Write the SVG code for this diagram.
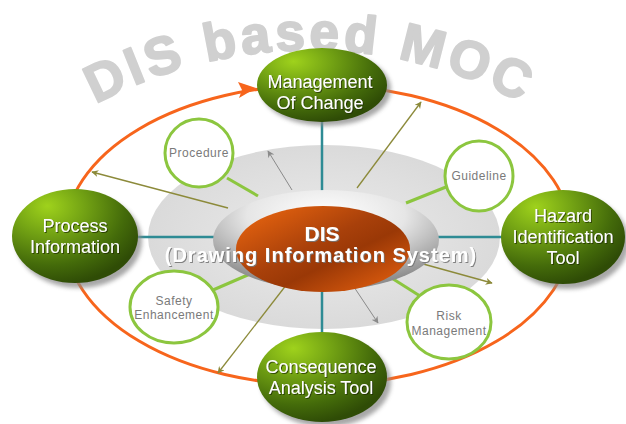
<svg xmlns="http://www.w3.org/2000/svg" width="626" height="424" viewBox="0 0 626 424">
<defs>
  <radialGradient id="gGreen" cx="30%" cy="22%" r="80%" fx="28%" fy="18%">
    <stop offset="0" stop-color="#9fd21c"/>
    <stop offset="0.35" stop-color="#74a414"/>
    <stop offset="0.75" stop-color="#446b0a"/>
    <stop offset="1" stop-color="#2f4c06"/>
  </radialGradient>
  <linearGradient id="gOrange" x1="0" y1="0" x2="1" y2="1">
    <stop offset="0" stop-color="#f26a10"/>
    <stop offset="0.45" stop-color="#a8400a"/>
    <stop offset="0.6" stop-color="#9a3806"/>
    <stop offset="1" stop-color="#ee6510"/>
  </linearGradient>
  <radialGradient id="gSilver" cx="50%" cy="25%" r="70%">
    <stop offset="0" stop-color="#ffffff"/>
    <stop offset="0.5" stop-color="#e6e6e6"/>
    <stop offset="1" stop-color="#8e8e8e"/>
  </radialGradient>
  <radialGradient id="gGray" cx="50%" cy="50%" r="50%">
    <stop offset="0" stop-color="#ececec"/>
    <stop offset="1" stop-color="#dadada"/>
  </radialGradient>
  <filter id="blur" x="-20%" y="-20%" width="140%" height="140%">
    <feGaussianBlur stdDeviation="2"/>
  </filter>
  <filter id="tshG" x="-10%" y="-30%" width="120%" height="160%">
    <feDropShadow dx="1" dy="1" stdDeviation="0.4" flood-color="#1e2c03" flood-opacity="0.7"/>
  </filter>
  <filter id="tshD" x="-10%" y="-30%" width="120%" height="160%">
    <feDropShadow dx="1" dy="1" stdDeviation="0.4" flood-color="#777777" flood-opacity="0.9"/>
  </filter>
  <marker id="aOlive" viewBox="0 0 10 10" refX="9" refY="5" markerWidth="7" markerHeight="7" orient="auto" markerUnits="userSpaceOnUse">
    <path d="M0,0 L10,5 L0,10 L3,5 z" fill="#8c8a3a"/>
  </marker>
  <marker id="aGray" viewBox="0 0 10 10" refX="9" refY="5" markerWidth="7" markerHeight="7" orient="auto" markerUnits="userSpaceOnUse">
    <path d="M0,0 L10,5 L0,10 L3,5 z" fill="#8a8a8a"/>
  </marker>
  <path id="titleArc" d="M -140 500 A 450 450 0 0 1 760 500"/>
</defs>
<style>
  .title { font-family: "Liberation Sans", Arial, sans-serif; font-weight: bold; font-size: 53px; fill: #d0d0d0; stroke: #d0d0d0; stroke-width: 2; stroke-linejoin: round; letter-spacing: 4px; }
  .big { fill: url(#gGreen); }
  .shadow { fill: #8a8a8a; opacity: 0.75; filter: url(#blur); }
  .btxt { font-family: "Liberation Sans", Arial, sans-serif; font-size: 18px; fill: #ffffff; text-anchor: middle; filter: url(#tshG); }
  .small { fill: #ffffff; stroke: #8cc63f; stroke-width: 3; }
  .stxt { font-family: "Liberation Sans", Arial, sans-serif; font-size: 12px; fill: #7a7a7a; text-anchor: middle; letter-spacing: 0.5px; }
  .teal { stroke: #2e8b94; stroke-width: 2.5; fill: none; }
  .grn { stroke: #8cc63f; stroke-width: 3; fill: none; }
  .olive { stroke: #8c8a3a; stroke-width: 1.3; fill: none; marker-end: url(#aOlive); }
  .garr { stroke: #8a8a8a; stroke-width: 1; fill: none; marker-end: url(#aGray); }
  .dis { font-family: "Liberation Sans", Arial, sans-serif; font-weight: bold; fill: #ffffff; text-anchor: middle; filter: url(#tshD); }
</style>
<rect width="626" height="424" fill="#ffffff"/>

<g id="title">
  <text class="title"><textPath href="#titleArc" startOffset="483.5">DIS</textPath></text>
  <text class="title"><textPath href="#titleArc" startOffset="602.6">based</textPath></text>
  <text class="title"><textPath href="#titleArc" startOffset="794.6">MOC</textPath></text>
</g>

<g id="cycle">
  <ellipse cx="318" cy="235" rx="253" ry="150" fill="none" stroke="#f7651c" stroke-width="3"/>
  <path d="M256,88 L238,82 L242,90 L239,98 z" fill="#f7651c"/>
</g>

<g id="background">
  <ellipse cx="324" cy="237" rx="176" ry="92" fill="url(#gGray)"/>
</g>

<g id="connectors">
  <line class="teal" x1="322" y1="118" x2="322" y2="192"/>
  <line class="teal" x1="136" y1="237" x2="216" y2="237"/>
  <line class="teal" x1="432" y1="237" x2="503" y2="237"/>
  <line class="teal" x1="322" y1="286" x2="322" y2="334"/>
  <line class="grn" x1="227" y1="178" x2="258" y2="196"/>
  <line class="grn" x1="446" y1="187" x2="406" y2="203"/>
  <line class="grn" x1="213" y1="290" x2="250" y2="274"/>
  <line class="grn" x1="420" y1="296" x2="390" y2="277"/>
  <line class="olive" x1="228" y1="208" x2="92" y2="172"/>
  <line class="olive" x1="357" y1="188" x2="421" y2="102"/>
  <line class="olive" x1="416" y1="262" x2="492" y2="283"/>
  <line class="olive" x1="287" y1="284" x2="218" y2="373"/>
  <line class="garr" x1="292" y1="190" x2="268" y2="151"/>
  <line class="garr" x1="354" y1="287" x2="378" y2="323"/>
</g>

<g id="dis">
  <ellipse cx="326" cy="240" rx="113" ry="50" fill="url(#gSilver)"/>
  <ellipse cx="323" cy="249" rx="87" ry="43" fill="url(#gOrange)"/>
  <text class="dis" x="322" y="241" font-size="21">DIS</text>
  <text class="dis" x="321" y="262" font-size="20" letter-spacing="1">(Drawing Information System)</text>
</g>

<g id="procedure">
  <ellipse class="small" cx="199" cy="153" rx="34" ry="34"/>
  <text class="stxt" x="199" y="157">Procedure</text>
</g>
<g id="guideline">
  <ellipse class="small" cx="479" cy="176" rx="34" ry="35"/>
  <text class="stxt" x="479" y="180">Guideline</text>
</g>
<g id="safety">
  <ellipse class="small" cx="174" cy="307" rx="44" ry="36"/>
  <text class="stxt" x="174" y="305">Safety</text>
  <text class="stxt" x="174" y="319">Enhancement</text>
</g>
<g id="risk">
  <ellipse class="small" cx="449" cy="322" rx="42" ry="37"/>
  <text class="stxt" x="449" y="320">Risk</text>
  <text class="stxt" x="449" y="335">Management</text>
</g>

<g id="moc">
  <ellipse class="shadow" cx="326" cy="89" rx="65" ry="37"/>
  <ellipse class="big" cx="322" cy="85" rx="65" ry="37"/>
  <text class="btxt" x="320" y="88">Management</text>
  <text class="btxt" x="320" y="109">Of Change</text>
</g>
<g id="process">
  <ellipse class="shadow" cx="79" cy="241" rx="63" ry="47"/>
  <ellipse class="big" cx="75" cy="236" rx="63" ry="47"/>
  <text class="btxt" x="75" y="232">Process</text>
  <text class="btxt" x="75" y="253">Information</text>
</g>
<g id="hazard">
  <ellipse class="shadow" cx="567" cy="242" rx="62" ry="47"/>
  <ellipse class="big" cx="563" cy="237" rx="62" ry="47"/>
  <text class="btxt" x="563" y="222">Hazard</text>
  <text class="btxt" x="563" y="243">Identification</text>
  <text class="btxt" x="563" y="264">Tool</text>
</g>
<g id="consequence">
  <ellipse class="shadow" cx="326" cy="382" rx="65" ry="45"/>
  <ellipse class="big" cx="322" cy="377" rx="65" ry="45"/>
  <text class="btxt" x="321" y="373">Consequence</text>
  <text class="btxt" x="321" y="394">Analysis Tool</text>
</g>
</svg>
